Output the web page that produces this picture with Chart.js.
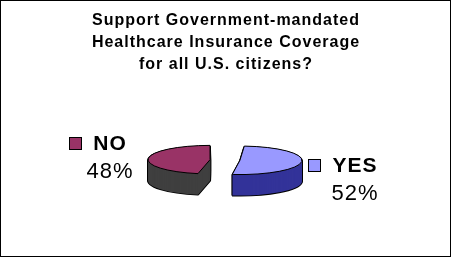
<!DOCTYPE html>
<html>
<head>
<meta charset="utf-8">
<script src="https://cdn.jsdelivr.net/npm/chart.js@4.4.0/dist/chart.umd.min.js"></script>
<style>
  html, body { margin: 0; padding: 0; background: #fff; }
  canvas { display: block; }
</style>
</head>
<body>
<canvas id="pieChart" width="452" height="258"></canvas>
<script>
// survey answers
var answers = ['NO', 'YES'];
var shares = [48, 52];
var titleLines = ['Support Government-mandated', 'Healthcare Insurance Coverage', 'for all U.S. citizens?'];

var topColors = ['#993366', '#9999ff'];
var sideColors = ['#3f3f3f', '#333399'];
var tilt = 0.23;   // vertical squash of the pie
var depth = 21;    // thickness of the pie in px
var font = "'Liberation Sans', Arial, sans-serif";

// fake the old excel 3d pie: squash the arcs and stack copies under them
var pie3d = {
  id: 'pie3d',
  beforeDraw: function(chart) {
    var ctx = chart.ctx;
    ctx.save();
    ctx.fillStyle = '#fff';
    ctx.fillRect(0, 0, chart.width, chart.height);
    ctx.restore();
    ctx.letterSpacing = '1px';
  },
  beforeDatasetsDraw: function(chart) {
    var ctx = chart.ctx;
    var arcs = chart.getDatasetMeta(0).data;
    var cy = arcs[0].y;
    var base = ctx.getTransform();
    var stroke = ctx.stroke;
    // keep borders 1px even though the pie is squashed
    ctx.stroke = function() {
      this.save();
      this.setTransform(base);
      stroke.call(this);
      this.restore();
    };
    ctx.save();
    ctx.translate(0, cy);
    ctx.scale(1, tilt);
    ctx.translate(0, -cy);
    // side walls: black outline pass, then the coloured fill
    [true, false].forEach(function(outline) {
      for (var d = depth; d >= 1; d--) {
        ctx.save();
        ctx.translate(0, d / tilt);
        arcs.forEach(function(arc, i) {
          var opts = arc.options;
          var o = Object.create(opts);
          o.backgroundColor = outline ? '#000' : sideColors[i];
          o.borderColor = '#000';
          o.borderWidth = outline ? 2 : 0;
          arc.options = o;
          arc.draw(ctx);
          arc.options = opts;
        });
        ctx.restore();
      }
    });
  },
  afterDatasetsDraw: function(chart) {
    var ctx = chart.ctx;
    ctx.restore();
    delete ctx.stroke;
  },
  afterDraw: function(chart, args, opts) {
    var ctx = chart.ctx;
    var arcs = chart.getDatasetMeta(0).data;
    var cx = arcs[0].x, cy = arcs[0].y;
    ctx.save();
    ctx.letterSpacing = '1px';
    ctx.textAlign = 'center';
    ctx.textBaseline = 'middle';
    answers.forEach(function(name, i) {
      var x = cx + opts.spots[i][0];
      var y = cy + opts.spots[i][1];
      ctx.font = 'bold 21px ' + font;
      ctx.fillStyle = '#000';
      ctx.fillText(name, x, y);
      var w = ctx.measureText(name).width;
      var left = Math.round(x - w / 2 - 11 - 13);
      ctx.fillStyle = topColors[i];
      ctx.fillRect(left, Math.round(y - 7), 13, 13);
      ctx.strokeStyle = '#000';
      ctx.lineWidth = 1;
      ctx.strokeRect(left + 0.5, Math.round(y - 7) + 0.5, 12, 12);
      ctx.font = '22px ' + font;
      ctx.fillStyle = '#000';
      ctx.fillText(shares[i] + '%', x, y + 28);
    });
    // chart frame
    ctx.strokeStyle = '#000';
    ctx.lineWidth = 1;
    ctx.strokeRect(0.5, 0.5, 450, 256);
    ctx.restore();
  }
};

var ctx = document.getElementById('pieChart').getContext('2d');
var chart = new Chart(ctx, {
  type: 'pie',
  data: {
    labels: answers,
    datasets: [{
      data: shares,
      backgroundColor: topColors,
      borderColor: '#000',
      borderWidth: 1,
      offset: [64, 56],
      clip: false
    }]
  },
  options: {
    responsive: false,
    animation: false,
    radius: 48,
    rotation: 189.2,
    layout: { padding: { bottom: 14 } },
    plugins: {
      legend: { display: false },
      tooltip: { enabled: false },
      title: {
        display: true,
        text: titleLines,
        color: '#000',
        font: { family: font, size: 16, weight: 'bold', lineHeight: 1.375 },
        padding: { top: 10, bottom: 0 }
      },
      pie3d: { spots: [[-116, -16], [129, 6]] }
    }
  },
  plugins: [pie3d]
});
</script>
</body>
</html>
